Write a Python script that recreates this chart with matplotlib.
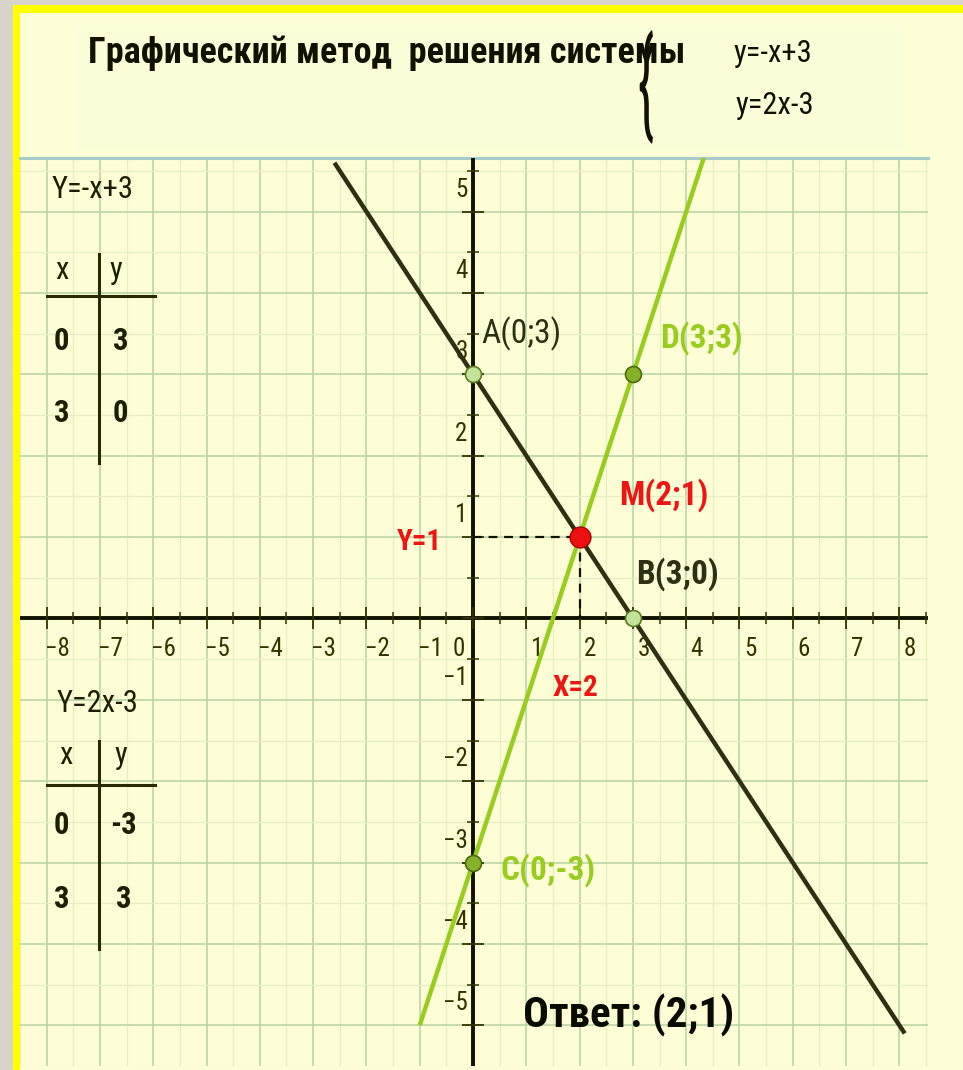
import numpy as np
import matplotlib
matplotlib.use("Agg")
import matplotlib.pyplot as plt
from matplotlib.patches import Rectangle, PathPatch
from matplotlib.textpath import TextPath
from matplotlib.font_manager import FontProperties
from matplotlib.transforms import Affine2D, IdentityTransform

W, H = 963, 1070
NARROW = ['Roboto Condensed', 'PT Sans Narrow', 'DejaVu Sans']

# data
line1_x = [-2.6, 8.1]     # y = -x + 3
line1_y = [5.6, -5.1]
line2_x = [-1.0, 4.4]     # y = 2x - 3
line2_y = [-5.0, 5.8]
pts_light = {'A': (0, 3), 'B': (3, 0)}
pts_green = {'C': (0, -3), 'D': (3, 3)}
solution = (2, 1)
x_ticks = [-8, -7, -6, -5, -4, -3, -2, -1, 0, 1, 2, 3, 4, 5, 6, 7, 8]
y_ticks = [-5, -4, -3, -2, -1, 1, 2, 3, 4, 5]
table1_x, table1_y = ['0', '3'], ['3', '0']
table2_x, table2_y = ['0', '3'], ['-3', '3']

cream = '#fdfdd6'
dark = '#2f2f14'
lime = '#99cc1f'
red = '#ee1515'

fig = plt.figure(figsize=(W / 100, H / 100), dpi=100)
fig.patch.set_facecolor('#d8d4cb')

def px(x0, y0, w, h):
    # rectangle in pixel coords (top-left origin) -> figure fraction
    return [x0 / W, 1 - (y0 + h) / H, w / W, h / H]

bg = fig.add_axes([0, 0, 1, 1])
bg.set_xlim(0, W)
bg.set_ylim(H, 0)
bg.axis('off')
bg.add_patch(Rectangle((13, 5), W - 13, H - 5, color='#ffff00', lw=0))
bg.add_patch(Rectangle((20, 13), W - 20, H - 13, color=cream, lw=0))
bg.add_patch(Rectangle((75, 28), 830, 122, color='#fbfdd9', lw=0))

# title
bg.text(88, 53, 'Графический метод  решения системы', family=NARROW,
        fontsize=26, fontweight='bold', color='#111100', va='center', ha='left')
bg.text(733, 53, 'y=-x+3', family=NARROW, fontsize=22, color='#111100', va='center')
bg.text(735, 105, 'y=2x-3', family=NARROW, fontsize=22, color='#111100', va='center')

# brace
tp = TextPath((0, 0), '{', size=100, prop=FontProperties(family=NARROW))
v = tp.vertices
bx0, by0 = v[:, 0].min(), v[:, 1].min()
bw, bh = v[:, 0].max() - bx0, v[:, 1].max() - by0
tx, ty, tw, th = 638, 30, 15, 114
tr = Affine2D().translate(-bx0, -by0).scale(tw / bw, th / bh).translate(tx, H - ty - th)
bg.add_patch(PathPatch(tr.transform_path(tp), transform=IdentityTransform(),
                       color='#111100', lw=0))

# coordinate plane: 54 px per x unit, 82 px per y unit, origin at (467, 622)
ax = fig.add_axes(px(20, 158, 908, 908))
ax.set_facecolor(cream)
ax.set_xlim((20 - 467) / 54, (928 - 467) / 54)
ax.set_ylim((622 - 1066) / 82, (622 - 158) / 82)
ax.set_xticks(np.arange(-8, 9))
ax.set_yticks(np.arange(-5, 6))
ax.set_xticks(np.arange(-8.5, 9, 1), minor=True)
ax.set_yticks(np.arange(-5.5, 6, 1), minor=True)
ax.grid(which='major', color='#bcd6a6', lw=1.2)
ax.grid(which='minor', color='#e6efc4', lw=0.9)
ax.tick_params(which='both', length=0, labelbottom=False, labelleft=False)
for s in ['left', 'right', 'bottom']:
    ax.spines[s].set_visible(False)
ax.spines['top'].set_color('#a6cbc8')
ax.spines['top'].set_linewidth(2.2)

# axes with ticks
ax.axhline(0, color='#111100', lw=2.8, zorder=3)
ax.axvline(0, color='#111100', lw=2.8, zorder=3)
xt = np.arange(-8, 9)
ax.plot(xt, np.zeros_like(xt), ls='none', marker='|', ms=16, mew=1.3, color='#333300', zorder=3)
ax.plot(xt + 0.5, np.zeros_like(xt), ls='none', marker='|', ms=9, mew=1.1, color='#333300', zorder=3)
yt = np.arange(-5, 6)
ax.plot(np.zeros_like(yt), yt, ls='none', marker='_', ms=16, mew=1.3, color='#333300', zorder=3)
ax.plot(np.zeros_like(yt), yt + 0.5, ls='none', marker='_', ms=9, mew=1.1, color='#333300', zorder=3)

tick_kw = dict(family=NARROW, fontsize=18, color='#333300', zorder=4)
for t in x_ticks:
    xpos = -0.26 if t == 0 else t + 0.2
    ax.text(xpos, -0.38, str(t).replace('-', '\u2212'), ha='center', va='center', **tick_kw)
for t in y_ticks:
    ax.text(-0.1, t + 0.27, str(t).replace('-', '\u2212'), ha='right', va='center', **tick_kw)

# lines
ax.plot(line1_x, line1_y, color=dark, lw=3.2, solid_capstyle='butt', zorder=5)
ax.plot(line2_x, line2_y, color=lime, lw=3.2, solid_capstyle='butt', zorder=5)
sx, sy = solution
ax.plot([0, sx], [sy, sy], ls=(0, (4, 3)), color='#111100', lw=1.6, zorder=4)
ax.plot([sx, sx], [sy, 0], ls=(0, (4, 3)), color='#111100', lw=1.6, zorder=4)

for (x, y) in pts_light.values():
    ax.plot(x, y, 'o', ms=11.5, mfc='#c2e39a', mec='#5a7a20', mew=1.2, zorder=6)
for (x, y) in pts_green.values():
    ax.plot(x, y, 'o', ms=11.5, mfc='#86b22a', mec='#4a6a10', mew=1.2, zorder=6)
ax.plot(sx, sy, 'o', ms=15, mfc='#ee1010', mec='#aa0000', mew=1, zorder=6)

lab = dict(family=NARROW, fontsize=24, va='center', ha='left', zorder=7)
small = {**lab, 'fontsize': 21}
ax.text(0.15, 3.5, 'A(0;3)', color=dark, **lab)
ax.text(3.52, 3.44, 'D(3;3)', color=lime, fontweight='bold', **lab)
ax.text(2.74, 1.52, 'M(2;1)', color=red, fontweight='bold', **lab)
ax.text(-1.43, 0.94, 'Y=1', color=red, fontweight='bold', **small)
ax.text(3.06, 0.54, 'B(3;0)', color=dark, fontweight='bold', **lab)
ax.text(1.5, -0.85, 'X=2', color=red, fontweight='bold', **small)
ax.text(0.52, -3.09, 'C(0;-3)', color=lime, fontweight='bold', **lab)
ax.text(0.93, -4.88, 'Ответ: (2;1)', color='#0a0a00', fontweight='bold',
        **{**lab, 'fontsize': 31})

# value tables
tab = dict(family=NARROW, fontsize=22, color='#1e1e00', va='center', ha='center', zorder=7)
ax.text(-7.9, 5.27, 'Y=-x+3', **{**tab, 'ha': 'left'})
ax.text(-7.72, 4.27, 'x', **tab)
ax.text(-6.7, 4.27, 'y', **tab)
ax.plot([-8.0, -5.96], [3.96, 3.96], color='#2a2a00', lw=2.2, zorder=6)
ax.plot([-7.02, -7.02], [4.48, 1.91], color='#2a2a00', lw=2.2, zorder=6)
for i in range(2):
    ax.text(-7.72, 3.41 - 0.89 * i, table1_x[i], fontweight='bold', **tab)
    ax.text(-6.61, 3.41 - 0.89 * i, table1_y[i], fontweight='bold', **tab)

ax.text(-7.81, -1.04, 'Y=2x-3', **{**tab, 'ha': 'left'})
ax.text(-7.63, -1.68, 'x', **tab)
ax.text(-6.61, -1.68, 'y', **tab)
ax.plot([-8.0, -5.96], [-2.05, -2.05], color='#2a2a00', lw=2.2, zorder=6)
ax.plot([-7.02, -7.02], [-1.5, -4.06], color='#2a2a00', lw=2.2, zorder=6)
for i in range(2):
    ax.text(-7.72, -2.54 - 0.91 * i, table2_x[i], fontweight='bold', **tab)
    ax.text(-6.55, -2.54 - 0.91 * i, table2_y[i], fontweight='bold', **tab)

fig.savefig('out.png', dpi=100, facecolor=fig.get_facecolor())
